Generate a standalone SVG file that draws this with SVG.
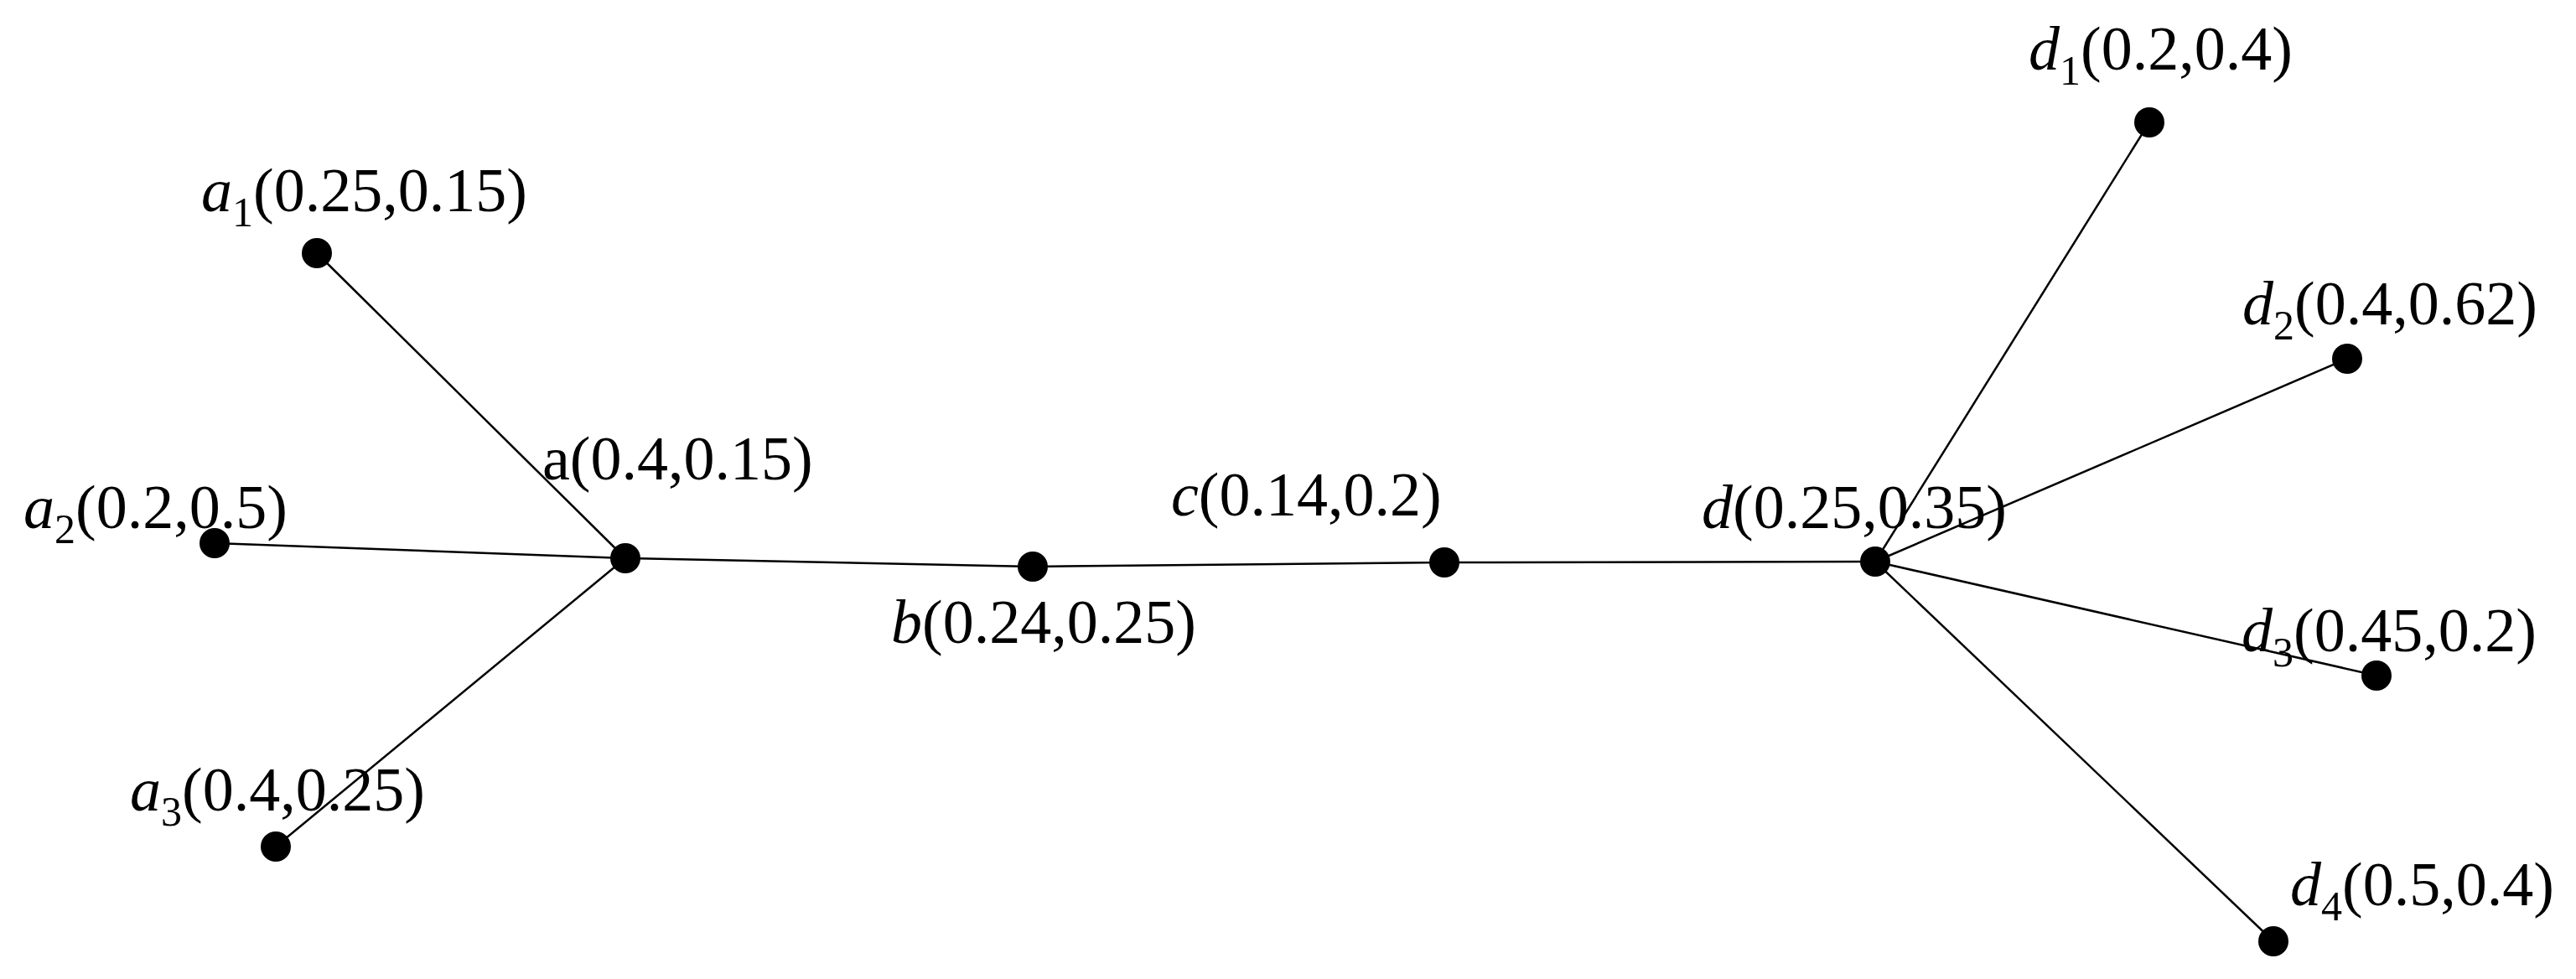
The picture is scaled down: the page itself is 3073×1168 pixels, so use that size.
<svg xmlns="http://www.w3.org/2000/svg" width="3073" height="1168" viewBox="0 0 3073 1168">
<style>
  .edge { stroke: #000; stroke-width: 2.5; fill: none; }
  .dot { fill: #000; }
  .lbl { font-family: "Liberation Serif", "Times New Roman", serif; font-size: 74px; fill: #000; }
  .it { font-style: italic; }
  .sub { font-size: 50px; }
</style>
<rect x="0" y="0" width="3073" height="1168" fill="#fff"/>
<g id="connectors">
  <line class="edge" x1="378" y1="302" x2="746" y2="666"/>
  <line class="edge" x1="256" y1="648" x2="746" y2="666"/>
  <line class="edge" x1="329" y1="1010" x2="746" y2="666"/>
  <line class="edge" x1="746" y1="666" x2="1232" y2="676"/>
  <line class="edge" x1="1232" y1="676" x2="1723" y2="671"/>
  <line class="edge" x1="1723" y1="671" x2="2237" y2="670"/>
  <line class="edge" x1="2237" y1="670" x2="2564" y2="146"/>
  <line class="edge" x1="2237" y1="670" x2="2800" y2="428"/>
  <line class="edge" x1="2237" y1="670" x2="2835" y2="806"/>
  <line class="edge" x1="2237" y1="670" x2="2712" y2="1123"/>
</g>
<g id="node-a1">
  <circle class="dot" cx="378" cy="302" r="18"/>
  <text class="lbl" x="240" y="252"><tspan class="it">a</tspan><tspan class="sub" dy="18">1</tspan><tspan dy="-18">(0.25,0.15)</tspan></text>
</g>
<g id="node-a2">
  <circle class="dot" cx="256" cy="648" r="18"/>
  <text class="lbl" x="28" y="630"><tspan class="it">a</tspan><tspan class="sub" dy="18">2</tspan><tspan dy="-18">(0.2,0.5)</tspan></text>
</g>
<g id="node-a3">
  <circle class="dot" cx="329" cy="1010" r="18"/>
  <text class="lbl" x="155" y="967"><tspan class="it">a</tspan><tspan class="sub" dy="18">3</tspan><tspan dy="-18">(0.4,0.25)</tspan></text>
</g>
<g id="node-a">
  <circle class="dot" cx="746" cy="666" r="18"/>
  <text class="lbl" x="647" y="572">a(0.4,0.15)</text>
</g>
<g id="node-b">
  <circle class="dot" cx="1232" cy="676" r="18"/>
  <text class="lbl" x="1063" y="767"><tspan class="it">b</tspan>(0.24,0.25)</text>
</g>
<g id="node-c">
  <circle class="dot" cx="1723" cy="671" r="18"/>
  <text class="lbl" x="1397" y="615"><tspan class="it">c</tspan>(0.14,0.2)</text>
</g>
<g id="node-d">
  <circle class="dot" cx="2237" cy="670" r="18"/>
  <text class="lbl" x="2030" y="630"><tspan class="it">d</tspan>(0.25,0.35)</text>
</g>
<g id="node-d1">
  <circle class="dot" cx="2564" cy="146" r="18"/>
  <text class="lbl" x="2420" y="83"><tspan class="it">d</tspan><tspan class="sub" dy="18">1</tspan><tspan dy="-18">(0.2,0.4)</tspan></text>
</g>
<g id="node-d2">
  <circle class="dot" cx="2800" cy="428" r="18"/>
  <text class="lbl" x="2675" y="387"><tspan class="it">d</tspan><tspan class="sub" dy="18">2</tspan><tspan dy="-18">(0.4,0.62)</tspan></text>
</g>
<g id="node-d3">
  <circle class="dot" cx="2835" cy="806" r="18"/>
  <text class="lbl" x="2674" y="777"><tspan class="it">d</tspan><tspan class="sub" dy="18">3</tspan><tspan dy="-18">(0.45,0.2)</tspan></text>
</g>
<g id="node-d4">
  <circle class="dot" cx="2712" cy="1123" r="18"/>
  <text class="lbl" x="2732" y="1080"><tspan class="it">d</tspan><tspan class="sub" dy="18">4</tspan><tspan dy="-18">(0.5,0.4)</tspan></text>
</g>
</svg>
